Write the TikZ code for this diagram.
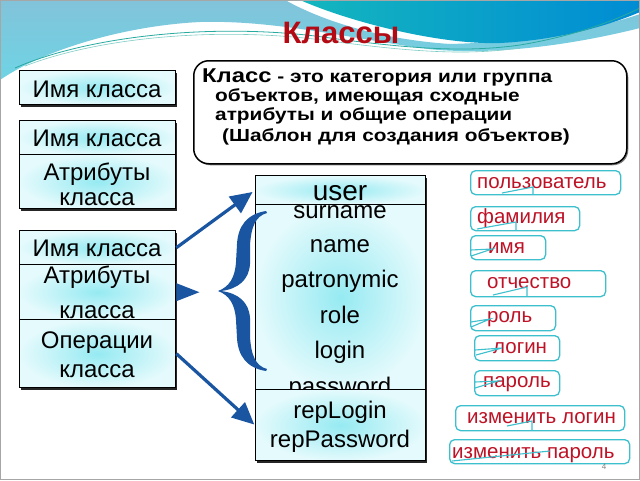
\documentclass[tikz,border=0pt]{standalone}
\usepackage{fontspec}
\setmainfont{Liberation Sans}
\newfontfamily\deffont[FakeStretch=1.19]{Liberation Sans}
\usetikzlibrary{arrows.meta,shadows,calc}
\definecolor{arrowblue}{RGB}{25,85,160}
\definecolor{boxin}{RGB}{150,234,242}
\definecolor{boxout}{RGB}{228,250,252}
\definecolor{calline}{RGB}{60,192,205}
\definecolor{caltext}{RGB}{190,18,38}
\definecolor{titlered}{RGB}{180,10,20}
\definecolor{skytop}{RGB}{130,195,218}
\definecolor{skybot}{RGB}{110,212,228}
\definecolor{tealL}{RGB}{20,182,190}
\definecolor{tealR}{RGB}{0,140,212}
\definecolor{waveline}{RGB}{40,170,160}
\begin{document}
\begin{tikzpicture}[x=1pt,y=-1pt,
  frame/.style={fill=white,inner sep=0pt,anchor=north west,minimum width=156pt,
    drop shadow={shadow xshift=2pt,shadow yshift=-3pt,opacity=0.85,fill=black}},
  comp/.style={draw=black,line width=1.4pt,shading=radial,inner color=boxin,outer color=boxout,
    minimum width=156pt,inner sep=0pt,anchor=north west},
  ucomp/.style={comp,minimum width=170pt},
  btxt/.style={anchor=base,font=\fontsize{24}{28}\selectfont,inner sep=0pt},
  callout/.style={draw=calline,line width=1.3pt,rounded corners=5pt,fill=white,anchor=north west,inner sep=0pt},
  ctxt/.style={anchor=base west,text=caltext,font=\fontsize{20.5}{24}\selectfont,inner sep=0pt},
  tail/.style={draw=calline,line width=1.1pt},
  dtxt/.style={anchor=base west,inner sep=0pt,font=\deffont\fontsize{17.5}{20}\selectfont\bfseries},
  conn/.style={draw=arrowblue,line width=3.2pt,-{Triangle[length=22pt,width=20pt]}}
]
\useasboundingbox (0,0) rectangle (640,480);
% background
\fill[white] (0,0) rectangle (640,480);
\shade[top color=skytop,bottom color=skybot] (0,0) -- (285,0) .. controls (330,25) and (390,40) .. (450,44)
  .. controls (530,42) and (600,28) .. (640,14) -- (640,28) .. controls (560,48) and (480,56) .. (420,48)
  .. controls (340,36) and (270,20) .. (200,22) .. controls (120,26) and (40,52) .. (0,80) -- cycle;
\shade[left color=tealL,right color=tealR] (300,0) .. controls (350,22) and (440,45) .. (500,43)
  .. controls (560,40) and (610,25) .. (640,12) -- (640,0) -- cycle;
\draw[waveline,line width=0.8pt] (15,68) .. controls (90,35) and (220,22) .. (330,38)
  .. controls (420,50) and (470,52) .. (520,45) .. controls (580,35) and (620,18) .. (640,8);
\draw[waveline!60,line width=0.6pt] (25,66) .. controls (100,37) and (220,26) .. (330,41)
  .. controls (420,53) and (470,55) .. (520,48);
\draw[gray!70,line width=0.8pt] (0.5,0.5) rectangle (639.5,479.5);

% title
\node[anchor=base,text=titlered,font=\fontsize{31}{34}\selectfont\bfseries,inner sep=0pt] (title) at (341,43) {Классы};

% definition box
\node[draw=black,line width=1.5pt,rounded corners=15pt,fill=white,anchor=north west,inner sep=0pt,
  minimum width=433pt,minimum height=103pt,
  drop shadow={shadow xshift=1.5pt,shadow yshift=-1.5pt,opacity=0.5,fill=black}] (def) at (193,60) {};
\node[dtxt] (d1) at (202,82) {{\fontsize{20}{22}\selectfont Класс} - это категория или группа};
\node[dtxt] (d2) at (215,101) {объектов, имеющая сходные};
\node[dtxt] (d3) at (215,120) {атрибуты и общие операции};
\node[dtxt] (d4) at (222,141) {(Шаблон для создания объектов)};

% box 1
\node[frame,minimum height=34pt] (f1) at (19,70) {};
\node[comp,minimum height=34pt] (b1) at (19,70) {};
\node[btxt] (t1) at (97,97) {Имя класса};

% box 2
\node[frame,minimum height=88pt] (f2) at (19,120) {};
\node[comp,minimum height=34pt] (b2a) at (19,120) {};
\node[comp,minimum height=54pt] (b2b) at (19,154) {};
\node[btxt] (t2a) at (97,146) {Имя класса};
\node[btxt] (t2b) at (97,180) {Атрибуты};
\node[btxt] (t2c) at (97,205) {класса};

% box 3
\node[frame,minimum height=157pt] (f3) at (19,230) {};
\node[comp,minimum height=34pt] (b3a) at (19,230) {};
\node[comp,minimum height=55pt] (b3b) at (19,264) {};
\node[comp,minimum height=68pt] (b3c) at (19,319) {};
\node[btxt] (t3a) at (97,256) {Имя класса};
\node[btxt] (t3b) at (97,283) {Атрибуты};
\node[btxt] (t3c) at (97,318) {класса};
\node[btxt] (t3d) at (97,348) {Операции};
\node[btxt] (t3e) at (97,377) {класса};

% user class
\node[frame,minimum width=170pt,minimum height=285pt] (fu) at (255,175) {};
\node[ucomp,minimum height=185pt] (uattr) at (255,204) {};
\node[btxt] (a1) at (340,218) {surname};
\node[btxt] (a2) at (340,252) {name};
\node[btxt] (a3) at (340,287) {patronymic};
\node[btxt] (a4) at (340,323) {role};
\node[btxt] (a5) at (340,358) {login};
\node[btxt] (a6) at (340,394) {password};
\node[ucomp,minimum height=29pt] (uhead) at (255,175) {};
\node[btxt,font=\fontsize{28}{30}\selectfont] (uname) at (340,200) {user};
\node[ucomp,minimum height=71pt] (uops) at (255,389) {};
\node[btxt] (o1) at (340,418) {repLogin};
\node[btxt] (o2) at (340,447) {repPassword};

% arrows
\draw[conn,shorten >=3pt] (b3a.east) -- (uhead.west);
\draw[conn,shorten >=1pt] (b3c.east) -- (uops.west);
\fill[arrowblue] ($(b3b.east)+(0,-9)$) -- ($(b3b.east)+(23,0)$) -- ($(b3b.east)+(0,9)$) -- cycle;
% brace
\fill[arrowblue] (266,211) .. controls (247,214) and (238,226) .. (237,244) -- (236,262)
  .. controls (235,278) and (229,287) .. (218,291)
  .. controls (229,295) and (235,304) .. (236,320) -- (237,338)
  .. controls (238,356) and (247,368) .. (266,371)
  -- (267,369) .. controls (256,366) and (251,356) .. (250,336) -- (250,318)
  .. controls (249,302) and (238,293) .. (221,291)
  .. controls (238,289) and (249,280) .. (250,264) -- (250,246)
  .. controls (251,226) and (256,216) .. (267,213) -- cycle;

% callouts
\node[callout,minimum width=150pt,minimum height=24pt] (c1) at (470,170) {};
\node[ctxt] (ct1) at (477,188) {пользователь};
\draw[tail] (533,194) -- (533,187) -- (502,193);
\node[callout,minimum width=109pt,minimum height=24pt] (c2) at (470,206) {};
\node[ctxt] (ct2) at (477,223) {фамилия};
\draw[tail] (516,230) -- (516,222) -- (477,229);
\node[callout,minimum width=75pt,minimum height=24pt] (c3) at (470,235) {};
\node[ctxt] (ct3) at (488,253) {имя};
\draw[tail] (471,250) -- (492,249) -- (471,256);
\node[callout,minimum width=135pt,minimum height=26pt] (c4) at (470,270) {};
\node[ctxt] (ct4) at (487,288) {отчество};
\draw[tail] (527,296) -- (527,287) -- (493,295);
\node[callout,minimum width=85pt,minimum height=25pt] (c5) at (470,305) {};
\node[ctxt] (ct5) at (487,322) {роль};
\draw[tail] (471,322) -- (490,319) -- (471,327);
\node[callout,minimum width=85pt,minimum height=25pt] (c6) at (474,335) {};
\node[ctxt] (ct6) at (493,353) {логин};
\draw[tail] (475,350) -- (502,348) -- (476,355);
\node[callout,minimum width=85pt,minimum height=25pt] (c7) at (474,370) {};
\node[ctxt] (ct7) at (483,387) {пароль};
\draw[tail] (475,382) -- (498,381) -- (475,388);
\node[callout,minimum width=169pt,minimum height=25pt] (c8) at (455,405) {};
\node[ctxt] (ct8) at (467,423) {изменить логин};
\draw[tail] (532,430) -- (532,421) -- (507,426);
\node[callout,minimum width=180pt,minimum height=24pt] (c9) at (449,439) {};
\node[ctxt] (ct9) at (452,458) {изменить пароль};
\draw[tail] (550,451) -- (452,461);

\node[anchor=base,text=gray,font=\fontsize{8}{9}\selectfont,inner sep=0pt] (pg) at (604,469) {4};
\end{tikzpicture}
\end{document}
